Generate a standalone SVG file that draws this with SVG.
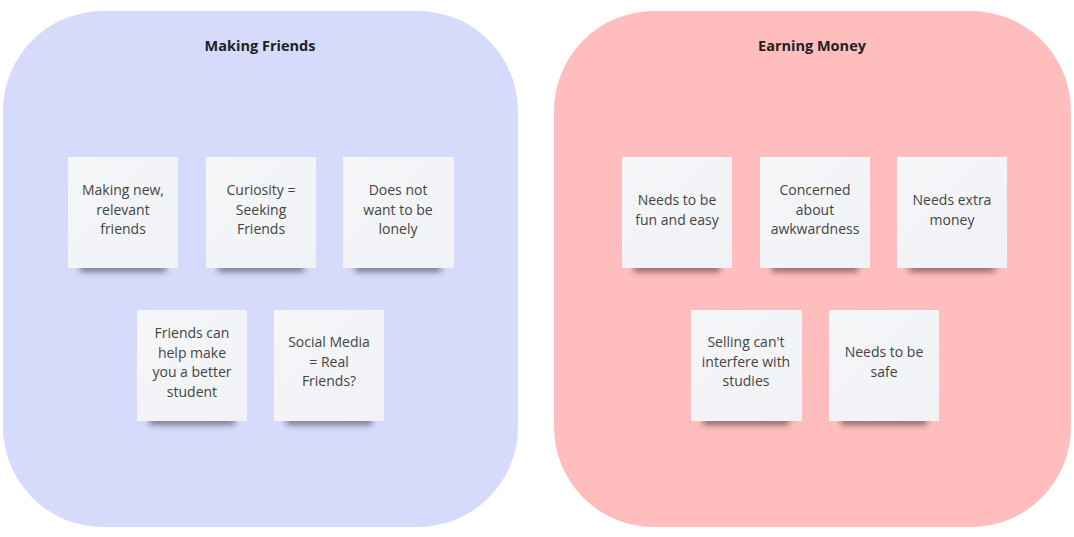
<svg xmlns="http://www.w3.org/2000/svg" width="1074" height="537" viewBox="0 0 1074 537">
<defs>
<filter id="sh" x="-20%" y="-100%" width="140%" height="300%"><feGaussianBlur stdDeviation="3"/></filter>
<linearGradient id="paper" x1="0" y1="0" x2="1" y2="1"><stop offset="0" stop-color="#f5f6f8"/><stop offset="1" stop-color="#f1f2f5"/></linearGradient>
</defs>
<style>
.title{font-family:"Open Sans","Noto Sans",sans-serif;font-weight:bold;font-size:14.5px;fill:#222;text-anchor:middle}
.t{font-family:"Open Sans","Noto Sans",sans-serif;font-size:14px;fill:#444;text-anchor:middle}
.note{fill:url(#paper)}
.shadow{fill:#000;opacity:0.45;filter:url(#sh)}
</style>
<rect width="1074" height="537" fill="#ffffff"/>
<g id="group-friends">
<rect x="3" y="11" width="515" height="516" rx="100" ry="100" fill="#d6dbfc"/>
<text class="title" x="260" y="51">Making Friends</text>
</g>
<g id="group-money">
<rect x="554" y="11" width="517" height="516" rx="100" ry="100" fill="#ffbdbd"/>
<text class="title" x="812" y="51">Earning Money</text>
</g>
<g id="note1"><rect class="shadow" x="80" y="264" width="86" height="8"/><rect class="note" x="68" y="157" width="110" height="111"/><text class="t" x="123" y="195">Making new,</text><text class="t" x="123" y="214.5">relevant</text><text class="t" x="123" y="234">friends</text></g>
<g id="note2"><rect class="shadow" x="218" y="264" width="86" height="8"/><rect class="note" x="206" y="157" width="110" height="111"/><text class="t" x="261" y="195">Curiosity =</text><text class="t" x="261" y="214.5">Seeking</text><text class="t" x="261" y="234">Friends</text></g>
<g id="note3"><rect class="shadow" x="355" y="264" width="86" height="8"/><rect class="note" x="343" y="157" width="111" height="111"/><text class="t" x="398" y="195">Does not</text><text class="t" x="398" y="214.5">want to be</text><text class="t" x="398" y="234">lonely</text></g>
<g id="note4"><rect class="shadow" x="149" y="417" width="86" height="8"/><rect class="note" x="137" y="310" width="110" height="111"/><text class="t" x="192" y="338">Friends can</text><text class="t" x="192" y="357.5">help make</text><text class="t" x="192" y="377">you a better</text><text class="t" x="192" y="396.5">student</text></g>
<g id="note5"><rect class="shadow" x="286" y="417" width="86" height="8"/><rect class="note" x="274" y="310" width="110" height="111"/><text class="t" x="329" y="347">Social Media</text><text class="t" x="329" y="366.5">= Real</text><text class="t" x="329" y="386">Friends?</text></g>
<g id="note6"><rect class="shadow" x="634" y="264" width="86" height="8"/><rect class="note" x="622" y="157" width="110" height="111"/><text class="t" x="677" y="205">Needs to be</text><text class="t" x="677" y="224.5">fun and easy</text></g>
<g id="note7"><rect class="shadow" x="772" y="264" width="86" height="8"/><rect class="note" x="760" y="157" width="110" height="111"/><text class="t" x="815" y="195">Concerned</text><text class="t" x="815" y="214.5">about</text><text class="t" x="815" y="234">awkwardness</text></g>
<g id="note8"><rect class="shadow" x="909" y="264" width="86" height="8"/><rect class="note" x="897" y="157" width="110" height="111"/><text class="t" x="952" y="205">Needs extra</text><text class="t" x="952" y="224.5">money</text></g>
<g id="note9"><rect class="shadow" x="703" y="417" width="86" height="8"/><rect class="note" x="691" y="310" width="111" height="111"/><text class="t" x="746" y="347">Selling can't</text><text class="t" x="746" y="366.5">interfere with</text><text class="t" x="746" y="386">studies</text></g>
<g id="note10"><rect class="shadow" x="841" y="417" width="86" height="8"/><rect class="note" x="829" y="310" width="110" height="111"/><text class="t" x="884" y="357">Needs to be</text><text class="t" x="884" y="376.5">safe</text></g>
<g id="connectors"></g>
</svg>
